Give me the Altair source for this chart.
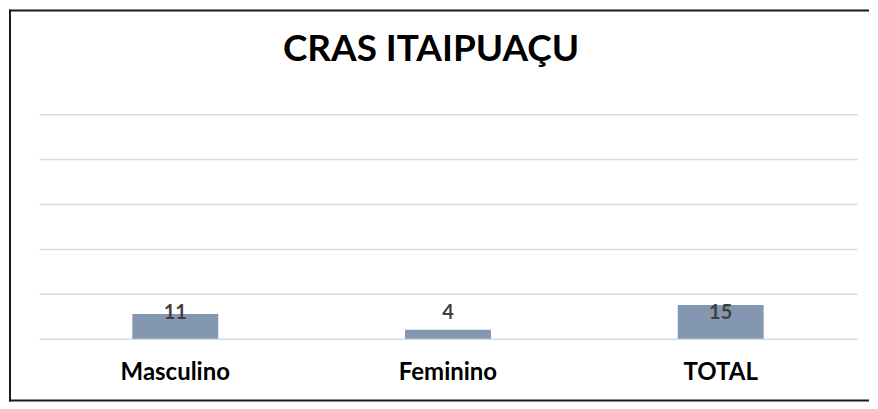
import altair as alt
import pandas as pd

categories = ["Masculino", "Feminino", "TOTAL"]
values = [11, 4, 15]
title_text = "CRAS ITAIPUAÇU"
grid_values = [0, 20, 40, 60, 80, 100]
y_domain = [0, 100]
label_level = 11.5

df = pd.DataFrame({"cat": categories, "val": values})
one = pd.DataFrame({"title": [title_text]})

FONT = "Lato"

x_enc = alt.X(
    "cat:N", sort=categories,
    scale=alt.Scale(paddingInner=0, paddingOuter=0),
    axis=alt.Axis(title=None, labelAngle=0, ticks=False, tickSize=0, domain=False,
                  labelFont=FONT, labelFontWeight="bold", labelFontSize=24,
                  labelColor="#000000", labelPadding=41, labelBaseline="alphabetic",
                  grid=False),
)
y_enc = alt.Y(
    "val:Q",
    scale=alt.Scale(domain=y_domain, nice=False, zero=True),
    axis=alt.Axis(title=None, values=grid_values, labels=False, ticks=False,
                  domain=False, grid=True, gridColor="#d9d9d9", gridWidth=1.5),
)

bars = alt.Chart(df).mark_bar(color="#8497b0", width=alt.RelativeBandSize(0.315)).encode(
    x=x_enc, y=y_enc
)

labels = alt.Chart(df).mark_text(
    font=FONT, fontWeight="bold", fontSize=20, color="#404040", baseline="middle"
).encode(
    x=alt.X("cat:N", sort=categories),
    y=alt.datum(label_level),
    text="val:Q",
)

title_mark = alt.Chart(one).mark_text(
    font=FONT, fontWeight="bold", fontSize=37, color="#000000",
    baseline="alphabetic", align="center",
).encode(x=alt.value(393), y=alt.value(-53), text="title:N")

frame_color = "#1a1a1a"
top_rule = alt.Chart(one).mark_rule(color=frame_color, strokeWidth=2).encode(
    x=alt.value(-30), x2=alt.value(832), y=alt.value(-104)
)
bottom_rule = alt.Chart(one).mark_rule(color=frame_color, strokeWidth=2).encode(
    x=alt.value(-30), x2=alt.value(832), y=alt.value(287)
)
left_rule = alt.Chart(one).mark_rule(color=frame_color, strokeWidth=2).encode(
    x=alt.value(-29), y=alt.value(-105), y2=alt.value(288)
)

chart = alt.layer(bars, labels, title_mark, top_rule, bottom_rule, left_rule).properties(
    width=820,
    height=225,
    padding=0,
).configure_view(stroke=None)

chart.save("out.html", embed_options={"renderer": "svg", "actions": False})
